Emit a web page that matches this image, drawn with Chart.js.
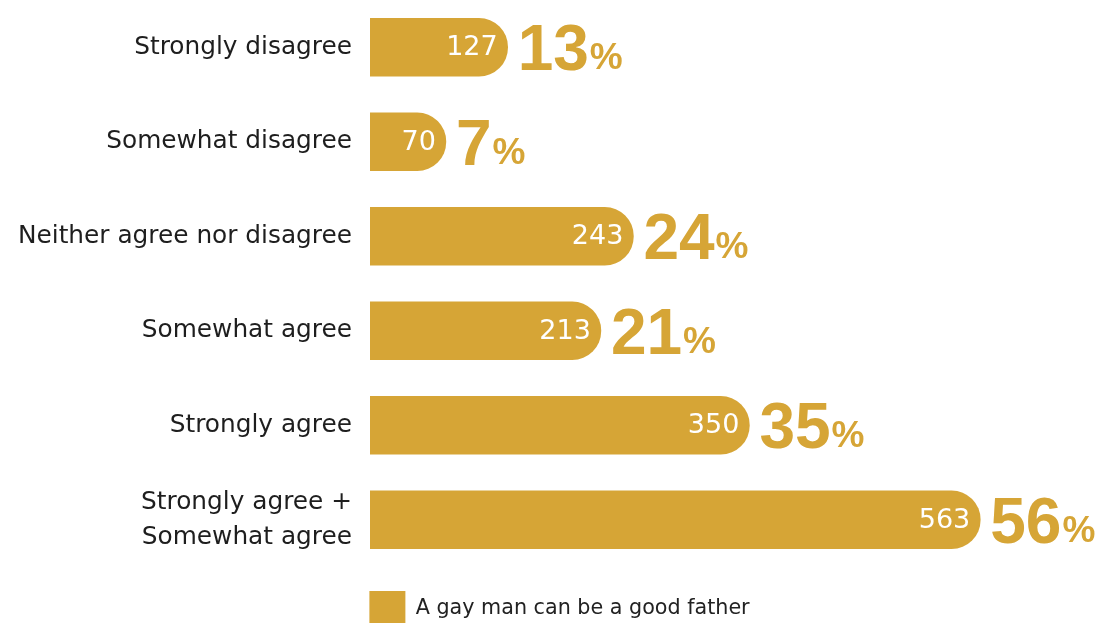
<!DOCTYPE html>
<html>
<head>
<meta charset="utf-8">
<script src="https://cdn.jsdelivr.net/npm/chart.js@4/dist/chart.umd.min.js"></script>
<style>
  html, body { margin: 0; padding: 0; background: #fff; overflow: hidden; }
  #wrap { width: 1119px; height: 637px; position: relative; }
</style>
</head>
<body>
<div id="wrap"><canvas id="chart"></canvas></div>
<script>
// data
const categories = [
  'Strongly disagree',
  'Somewhat disagree',
  'Neither agree nor disagree',
  'Somewhat agree',
  'Strongly agree',
  ['Strongly agree +', 'Somewhat agree'],
];
const counts = [127, 70, 243, 213, 350, 563];
const percents = [13, 7, 24, 21, 35, 56];
const seriesName = 'A gay man can be a good father';

const GOLD = '#D6A536';

// labels: count inside the bar, big percent after it
const barLabels = {
  id: 'barLabels',
  afterDatasetsDraw(chart) {
    const ctx = chart.ctx;
    const meta = chart.getDatasetMeta(0);
    meta.data.forEach((bar, i) => {
      ctx.save();
      ctx.textBaseline = 'middle';
      ctx.fillStyle = '#fff';
      ctx.textAlign = 'right';
      ctx.font = '27px "DejaVu Sans"';
      ctx.fillText(String(counts[i]), bar.x - 10, bar.y + 1);

      ctx.fillStyle = GOLD;
      ctx.textAlign = 'left';
      ctx.textBaseline = 'alphabetic';
      ctx.font = 'bold 64px "Liberation Sans"';
      const num = String(percents[i]);
      const x0 = bar.x + 10;
      ctx.fillText(num, x0, bar.y + 23);
      const w = ctx.measureText(num).width;
      ctx.font = 'bold 37px "Liberation Sans"';
      ctx.fillText('%', x0 + w + 1, bar.y + 22);
      ctx.restore();
    });
  }
};

new Chart(document.getElementById('chart'), {
  type: 'bar',
  data: {
    labels: categories,
    datasets: [{
      label: seriesName,
      data: counts,
      backgroundColor: GOLD,
      borderWidth: 0,
      borderRadius: 29,
      barThickness: 58,
    }]
  },
  options: {
    indexAxis: 'y',
    responsive: true,
    maintainAspectRatio: false,
    animation: false,
    layout: { padding: 0 },
    scales: {
      x: {
        display: false,
        min: 0,
        max: 691,
      },
      y: {
        grid: { display: false },
        border: { display: false },
        ticks: {
          color: '#1e1e1e',
          padding: 10,
          font: { family: '"DejaVu Sans"', size: 24.8, lineHeight: 1.4 },
        },
        afterFit(scale) {
          scale.width = 370;
          scale.paddingTop = 0;
          scale.paddingBottom = 0;
        },
      }
    },
    plugins: {
      legend: {
        position: 'bottom',
        labels: {
          boxWidth: 36,
          boxHeight: 36,
          color: '#222',
          font: { family: '"DejaVu Sans"', size: 20.7 },
          padding: 24,
        }
      },
      tooltip: { enabled: false },
    }
  },
  plugins: [barLabels]
});
</script>
</body>
</html>
